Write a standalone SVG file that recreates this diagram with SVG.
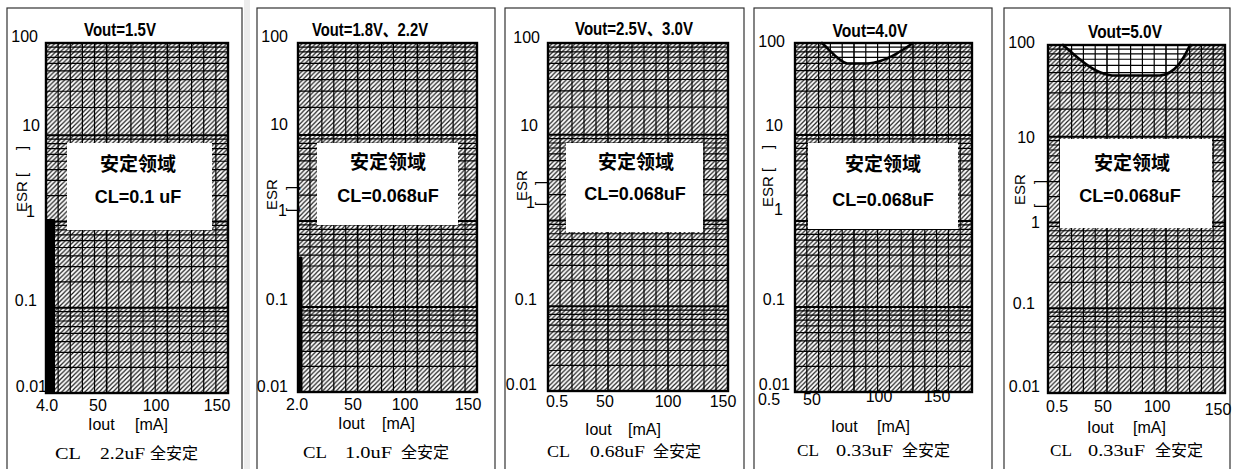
<svg xmlns="http://www.w3.org/2000/svg" xmlns:xlink="http://www.w3.org/1999/xlink" width="1233" height="469" viewBox="0 0 1233 469">
<style>
.frame{fill:none;stroke:#333;stroke-width:1.2}
.t{font-family:"Liberation Sans","Noto Sans CJK SC",sans-serif;font-size:16px;fill:#000}
.title{font-family:"Liberation Sans","Noto Sans CJK SC",sans-serif;font-weight:bold;font-size:18px;text-anchor:middle}
.yl{text-anchor:end}
.xl{text-anchor:middle}
.esr{font-family:"Liberation Sans",sans-serif;font-size:15px}
.box{fill:#fff}
.bt{font-family:"Noto Sans CJK SC",sans-serif;font-weight:bold;font-size:19px;text-anchor:middle}
.bc{font-family:"Liberation Sans",sans-serif;font-weight:bold;font-size:18px;text-anchor:middle}
.cap{font-family:"Liberation Serif",serif;font-size:17px}
.capj{font-family:"Noto Sans CJK SC",sans-serif;font-size:16px}
.curve{fill:none;stroke:#000;stroke-width:2.6;stroke-linecap:round}
.minor{fill:none;stroke:#000;stroke-width:1.2}
.major{fill:none;stroke:#000;stroke-width:2}
.pb{fill:none;stroke:#000;stroke-width:2.4}
</style>
<defs>
<pattern id="hp" patternUnits="userSpaceOnUse" width="4.6" height="4.6">
<rect width="4.6" height="4.6" fill="#fff"/>
<path d="M-1,1 L1,-1 M0,4.6 L4.6,0 M3.6,5.6 L5.6,3.6" stroke="#1a1a1a" stroke-width="1.15"/>
</pattern>
<rect id="hatch" x="0" y="0" width="180" height="349" fill="url(#hp)"/>
<g id="grid">
<path class="minor" d="M0,4.2H180M0,8.9H180M0,14.3H180M0,20.4H180M0,27.7H180M0,36.6H180M0,48.1H180M0,64.3H180M0,95.9H180M0,100.3H180M0,105.3H180M0,111.1H180M0,117.9H180M0,126.2H180M0,137H180M0,152.1H180M0,181.9H180M0,186.3H180M0,191.3H180M0,197.1H180M0,203.9H180M0,212.2H180M0,223H180M0,238.1H180M0,267.9H180M0,272.2H180M0,277.2H180M0,282.9H180M0,289.6H180M0,297.8H180M0,308.4H180M0,323.4H180"/>
<path class="minor" d="M12,0V349M24,0V349M36,0V349M48,0V349M72,0V349M84,0V349M96,0V349M108,0V349M132,0V349M144,0V349M156,0V349M168,0V349"/>
<path class="major" d="M0,92H180M0,178H180M0,264H180"/>
<path fill="none" stroke="#000" stroke-width="1.6" d="M60,0V349M120,0V349"/>
</g>
<rect id="border" x="0" y="0" width="180" height="349" class="pb"/>
</defs>

<rect x="244" y="0" width="6" height="469" fill="#ececec"/>

<g id="panel1">
<rect class="frame" x="7" y="8" width="235" height="470"/>
<g transform="translate(46,43) scale(1.0111,1.0029)">
<use xlink:href="#hatch"/><use xlink:href="#grid"/>
</g>
<rect class="box" x="67" y="143" width="145" height="87"/>
<rect x="46" y="219" width="9" height="174" fill="#000"/>
<g transform="translate(46,43) scale(1.0111,1.0029)"><use xlink:href="#border"/></g>
<text class="title" x="120" y="36" textLength="72" lengthAdjust="spacingAndGlyphs">Vout=1.5V</text>
<text class="bt" x="138" y="171">安定领域</text>
<text class="bc" x="138" y="203">CL=0.1 uF</text>
<g class="t yl"><text x="38" y="42">100</text><text x="40" y="131">10</text><text x="35" y="217">1</text><text x="37" y="306">0.1</text><text x="47" y="392">0.01</text></g>
<g class="t xl"><text x="47" y="411">4.0</text><text x="98" y="411">50</text><text x="156" y="411">100</text><text x="217" y="411">150</text></g>
<text class="t" x="88" y="430">Iout</text><text class="t" x="135" y="430">[mA]</text>
<text class="esr" transform="translate(27,212) rotate(-90)">ESR [</text>
<text class="esr" transform="translate(27,150) rotate(-90)">]</text>
<text class="cap" x="55" y="459" textLength="26" lengthAdjust="spacingAndGlyphs">CL</text>
<text class="cap" x="100" y="459" textLength="45" lengthAdjust="spacingAndGlyphs">2.2uF</text>
<text class="capj" x="150" y="459">全安定</text>
</g>

<g id="panel2">
<rect class="frame" x="257" y="8" width="238" height="470"/>
<g transform="translate(298,43) scale(0.9944,1)">
<use xlink:href="#hatch"/><use xlink:href="#grid"/>
</g>
<rect class="box" x="317" y="143" width="141" height="82"/>
<rect x="298" y="257" width="4.5" height="135" fill="#000"/>
<g transform="translate(298,43) scale(0.9944,1)"><use xlink:href="#border"/></g>
<text class="title" x="370" y="36" textLength="116" lengthAdjust="spacingAndGlyphs">Vout=1.8V、2.2V</text>
<text class="bt" x="388" y="169">安定领域</text>
<text class="bc" x="388" y="202">CL=0.068uF</text>
<g class="t yl"><text x="288" y="42">100</text><text x="288" y="130">10</text><text x="287" y="216">1</text><text x="288" y="305">0.1</text><text x="288" y="392">0.01</text></g>
<g class="t xl"><text x="297" y="410">2.0</text><text x="353" y="410">50</text><text x="405" y="410">100</text><text x="468" y="410">150</text></g>
<text class="t" x="338" y="429">Iout</text><text class="t" x="382" y="429">[mA]</text>
<text class="esr" transform="translate(277,210) rotate(-90)">ESR</text>
<text class="esr" transform="translate(297,212) rotate(-90)">[</text>
<text class="esr" transform="translate(297,190) rotate(-90)">]</text>
<text class="cap" x="303" y="458" textLength="24" lengthAdjust="spacingAndGlyphs">CL</text>
<text class="cap" x="345" y="458" textLength="47" lengthAdjust="spacingAndGlyphs">1.0uF</text>
<text class="capj" x="401" y="458">全安定</text>
</g>

<g id="panel3">
<rect class="frame" x="505" y="8" width="239" height="470"/>
<g transform="translate(548,43) scale(1,0.9971)">
<use xlink:href="#hatch"/><use xlink:href="#grid"/>
</g>
<rect class="box" x="566" y="143" width="137" height="89"/>
<g transform="translate(548,43) scale(1,0.9971)"><use xlink:href="#border"/></g>
<text class="title" x="634" y="35" textLength="118" lengthAdjust="spacingAndGlyphs">Vout=2.5V、3.0V</text>
<text class="bt" x="636" y="169">安定领域</text>
<text class="bc" x="635" y="200">CL=0.068uF</text>
<g class="t yl"><text x="540" y="43">100</text><text x="538" y="131">10</text><text x="535" y="208">1</text><text x="537" y="305">0.1</text><text x="537" y="390">0.01</text></g>
<g class="t xl"><text x="557" y="407">0.5</text><text x="605" y="407">50</text><text x="668" y="407">100</text><text x="723" y="407">150</text></g>
<text class="t" x="585" y="435">Iout</text><text class="t" x="628" y="435">[mA]</text>
<text class="esr" transform="translate(527,201) rotate(-90)">ESR</text>
<text class="esr" transform="translate(546,206) rotate(-90)">[</text>
<text class="esr" transform="translate(546,185) rotate(-90)">]</text>
<text class="cap" x="547" y="457" textLength="23" lengthAdjust="spacingAndGlyphs">CL</text>
<text class="cap" x="590" y="457" textLength="55" lengthAdjust="spacingAndGlyphs">0.68uF</text>
<text class="capj" x="653" y="457">全安定</text>
</g>

<g id="panel4">
<rect class="frame" x="754" y="8" width="238" height="470"/>
<g transform="translate(795,43) scale(0.9833,1)">
<use xlink:href="#hatch"/>
</g>
<path d="M822,43 C832,52 838,61 847,63.5 L868,63.5 C885,62 900,52 913,43 Z" fill="#fff"/>
<g transform="translate(795,43) scale(0.9833,1)">
<use xlink:href="#grid"/>
</g>
<rect class="box" x="808" y="143" width="150" height="86"/>
<path class="curve" d="M822,43 C832,52 838,61 847,63.5 L868,63.5 C885,62 900,52 913,43"/>
<g transform="translate(795,43) scale(0.9833,1)"><use xlink:href="#border"/></g>
<text class="title" x="870" y="37" textLength="75" lengthAdjust="spacingAndGlyphs">Vout=4.0V</text>
<text class="bt" x="883" y="171">安定领域</text>
<text class="bc" x="883" y="206">CL=0.068uF</text>
<g class="t yl"><text x="785" y="47">100</text><text x="783" y="131">10</text><text x="783" y="215">1</text><text x="785" y="305">0.1</text><text x="790" y="390">0.01</text></g>
<g class="t xl"><text x="769" y="405">0.5</text><text x="812" y="405">50</text><text x="879" y="402">100</text><text x="937" y="402">150</text></g>
<text class="t" x="831" y="432">Iout</text><text class="t" x="877" y="432">[mA]</text>
<text class="esr" transform="translate(773,207) rotate(-90)">ESR [</text>
<text class="esr" transform="translate(773,149) rotate(-90)">]</text>
<text class="cap" x="797" y="456" textLength="22" lengthAdjust="spacingAndGlyphs">CL</text>
<text class="cap" x="836" y="456" textLength="57" lengthAdjust="spacingAndGlyphs">0.33uF</text>
<text class="capj" x="902" y="456">全安定</text>
</g>

<g id="panel5">
<rect class="frame" x="1004" y="8" width="226" height="470"/>
<g transform="translate(1048,45) scale(0.9833,0.9971)">
<use xlink:href="#hatch"/>
</g>
<path d="M1063,45 C1080,60 1095,74 1112,75.5 L1160,75.5 C1175,74 1183,60 1190,45 Z" fill="#fff"/>
<g transform="translate(1048,45) scale(0.9833,0.9971)">
<use xlink:href="#grid"/>
</g>
<rect class="box" x="1060" y="139" width="152" height="89"/>
<path class="curve" d="M1063,45 C1080,60 1095,74 1112,75.5 L1160,75.5 C1175,74 1183,60 1190,45"/>
<g transform="translate(1048,45) scale(0.9833,0.9971)"><use xlink:href="#border"/></g>
<text class="title" x="1125" y="38" textLength="74" lengthAdjust="spacingAndGlyphs">Vout=5.0V</text>
<text class="bt" x="1132" y="170">安定领域</text>
<text class="bc" x="1130" y="202">CL=0.068uF</text>
<g class="t yl"><text x="1035" y="48">100</text><text x="1035" y="143">10</text><text x="1040" y="228">1</text><text x="1035" y="309">0.1</text><text x="1040" y="392">0.01</text></g>
<g class="t xl"><text x="1057" y="412">0.5</text><text x="1103" y="412">50</text><text x="1157" y="412">100</text><text x="1218" y="415">150</text></g>
<text class="t" x="1087" y="433">Iout</text><text class="t" x="1133" y="433">[mA]</text>
<text class="esr" transform="translate(1025,205) rotate(-90)">ESR</text>
<text class="esr" transform="translate(1045,208) rotate(-90)">[</text>
<text class="esr" transform="translate(1045,184) rotate(-90)">]</text>
<text class="cap" x="1050" y="456" textLength="22" lengthAdjust="spacingAndGlyphs">CL</text>
<text class="cap" x="1088" y="456" textLength="57" lengthAdjust="spacingAndGlyphs">0.33uF</text>
<text class="capj" x="1155" y="456">全安定</text>
</g>
</svg>
